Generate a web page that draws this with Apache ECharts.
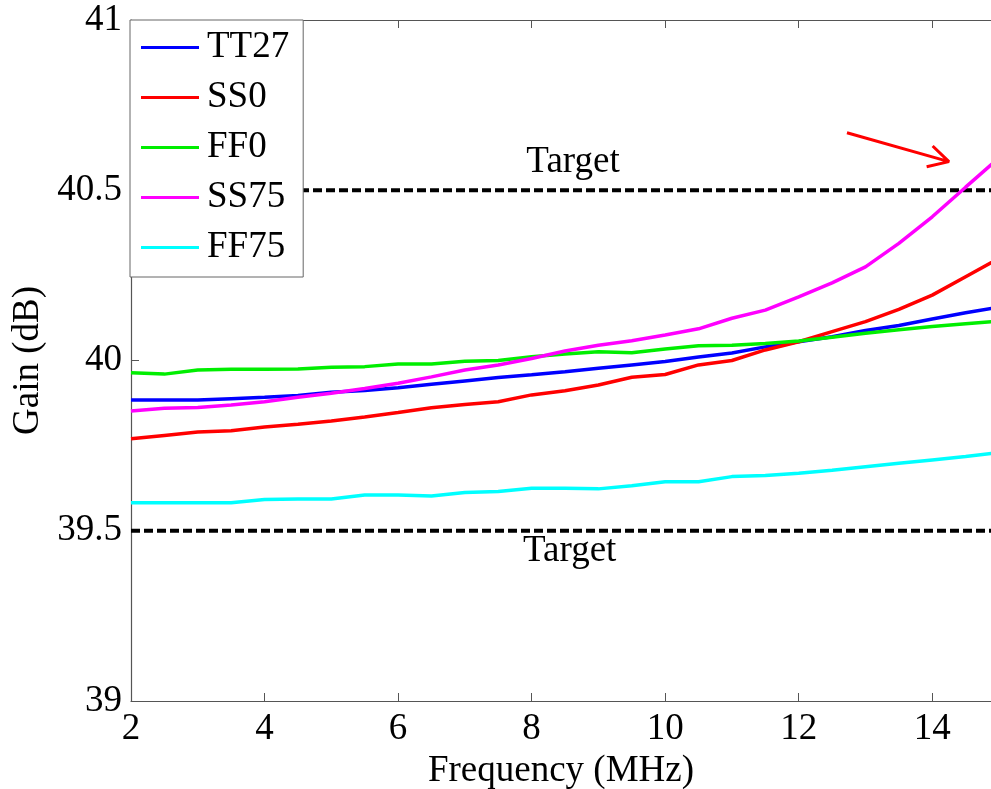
<!DOCTYPE html>
<html>
<head>
<meta charset="utf-8">
<script src="https://cdn.jsdelivr.net/npm/echarts@6/dist/echarts.min.js"></script>
<style>
html,body{margin:0;padding:0;background:#fff;overflow:hidden;}
#chart{width:991px;height:789px;}
</style>
</head>
<body>
<div id="chart"></div>
<script>
// Frequency (MHz)
var freq = [2,2.5,3,3.5,4,4.5,5,5.5,6,6.5,7,7.5,8,8.5,9,9.5,10,10.5,11,11.5,12,12.5,13,13.5,14,14.5,15];
// Gain (dB)
var TT27 = [39.884,39.884,39.884,39.888,39.892,39.897,39.907,39.912,39.92,39.93,39.94,39.95,39.958,39.967,39.977,39.987,39.997,40.01,40.022,40.04,40.055,40.07,40.088,40.103,40.122,40.14,40.157];
var SS0  = [39.77,39.78,39.79,39.794,39.805,39.813,39.822,39.834,39.847,39.861,39.871,39.879,39.899,39.911,39.928,39.951,39.959,39.987,40.0,40.031,40.055,40.085,40.114,40.15,40.192,40.246,40.3];
var FF0  = [39.964,39.96,39.972,39.974,39.974,39.975,39.98,39.982,39.99,39.99,39.998,40.0,40.011,40.019,40.026,40.023,40.034,40.043,40.045,40.05,40.057,40.068,40.08,40.09,40.1,40.108,40.116];
var SS75 = [39.852,39.86,39.862,39.869,39.879,39.892,39.904,39.918,39.933,39.952,39.972,39.987,40.006,40.028,40.045,40.058,40.075,40.093,40.124,40.148,40.187,40.228,40.275,40.344,40.422,40.509,40.595];
var FF75 = [39.582,39.582,39.582,39.582,39.592,39.593,39.593,39.605,39.605,39.602,39.612,39.615,39.625,39.625,39.623,39.632,39.644,39.644,39.659,39.662,39.669,39.678,39.688,39.698,39.708,39.718,39.73];
var seriesNames = ['TT27','SS0','FF0','SS75','FF75'];
var seriesColors = ['#0000ff','#ff0000','#00ee00','#ff00ff','#00ffff'];
// Targets
var targetUpper = 40.5, targetLower = 39.5;
var targetLabelUpper = [8.62, 40.583];
var targetLabelLower = [8.57, 39.44];
// Annotation arrow (data coords)
var arrowTail = [12.723, 40.669], arrowTip = [14.25, 40.584];
var arrowBarb1 = [14.006, 40.63], arrowBarb2 = [13.916, 40.569];
var xTicks = [2,4,6,8,10,12,14];
var yTicks = [39,39.5,40,40.5,41];
var xVisibleMax = 14.88;

var FONT = '"Liberation Serif","Times New Roman",serif';
var FS = 37;
var allSeriesData = [TT27, SS0, FF0, SS75, FF75];
function pairs(arr){ return freq.map(function(f,i){ return [f, arr[i]]; }); }

var series = seriesNames.map(function(n,i){
  return {
    name: n, type: 'line', data: pairs(allSeriesData[i]),
    showSymbol: false, symbol: 'none', smooth: false, clip: true,
    lineStyle: {color: seriesColors[i], width: 3.5},
    itemStyle: {color: seriesColors[i]},
    z: 3, animation: false
  };
});
function targetSeries(name, val, lab){
  return {
    name: name, type: 'line', data: [[2,val],[15,val]], clip: true,
    symbol: 'none', animation: false,
    lineStyle: {color: '#000', width: 4, type: [9,4]},
    z: 2,
    markPoint: {
      symbol: 'circle', symbolSize: 0, animation: false,
      label: {show: true, formatter: 'Target', color: '#000', fontFamily: FONT, fontSize: FS, position: 'inside'},
      data: [{coord: lab}]
    }
  };
}
series.push(targetSeries('targetU', targetUpper, targetLabelUpper));
series.push(targetSeries('targetL', targetLower, targetLabelLower));
series.push({
  name: 'arrow', type: 'line', symbol: 'none', animation: false, clip: true,
  data: [arrowTail, arrowTip, arrowBarb1, arrowTip, arrowBarb2],
  lineStyle: {color: '#ff0000', width: 3}, z: 4
});

var axisLine = {show: true, lineStyle: {color: '#555', width: 1.2}};
var chart = echarts.init(document.getElementById('chart'), null, {renderer: 'canvas', width: 991, height: 789});
chart.setOption({
  backgroundColor: '#fff',
  animation: false,
  grid: {left: 131, top: 20, width: 860, height: 681, containLabel: false, outerBoundsMode: 'none'},
  legend: {
    data: seriesNames, orient: 'vertical', left: 130, top: 20,
    backgroundColor: '#fff', borderColor: '#666', borderWidth: 1,
    padding: [9, 14, 11, 11], itemGap: 13,
    itemWidth: 58, itemHeight: 3, icon: 'rect',
    textStyle: {fontFamily: FONT, fontSize: FS, color: '#000', padding: [0,0,0,3], lineHeight: 37},
    selectedMode: false
  },
  xAxis: [{
    type: 'value', min: 2, max: xVisibleMax, interval: 2, position: 'bottom',
    name: 'Frequency (MHz)', nameLocation: 'middle', nameGap: 51,
    nameTextStyle: {fontFamily: FONT, fontSize: FS, color: '#000'},
    axisLine: axisLine, splitLine: {show: false},
    axisTick: {show: true, inside: true, length: 8, lineStyle: {color: '#555'}},
    axisLabel: {fontFamily: FONT, fontSize: FS, color: '#000', margin: 10, showMaxLabel: false,
      formatter: function(v){ return xTicks.indexOf(v) >= 0 ? String(v) : ''; }}
  },{
    type: 'value', min: 2, max: xVisibleMax, interval: 2, position: 'top',
    axisLine: axisLine, splitLine: {show: false},
    axisTick: {show: true, inside: true, length: 8, lineStyle: {color: '#555'}},
    axisLabel: {show: false}
  }],
  yAxis: [{
    type: 'value', min: 39, max: 41, interval: 0.5, position: 'left',
    name: 'Gain (dB)', nameLocation: 'middle', nameGap: 78, nameRotate: 90,
    nameTextStyle: {fontFamily: FONT, fontSize: FS, color: '#000'},
    axisLine: axisLine, splitLine: {show: false},
    axisTick: {show: true, inside: true, length: 8, lineStyle: {color: '#555'}},
    axisLabel: {fontFamily: FONT, fontSize: FS, color: '#000', margin: 9,
      formatter: function(v){ return yTicks.indexOf(v) >= 0 ? String(v) : ''; }}
  },{
    type: 'value', min: 39, max: 41, interval: 0.5, position: 'right',
    axisLine: {show: false}, splitLine: {show: false},
    axisTick: {show: false},
    axisLabel: {show: false}
  }],
  series: series
});
</script>
</body>
</html>
